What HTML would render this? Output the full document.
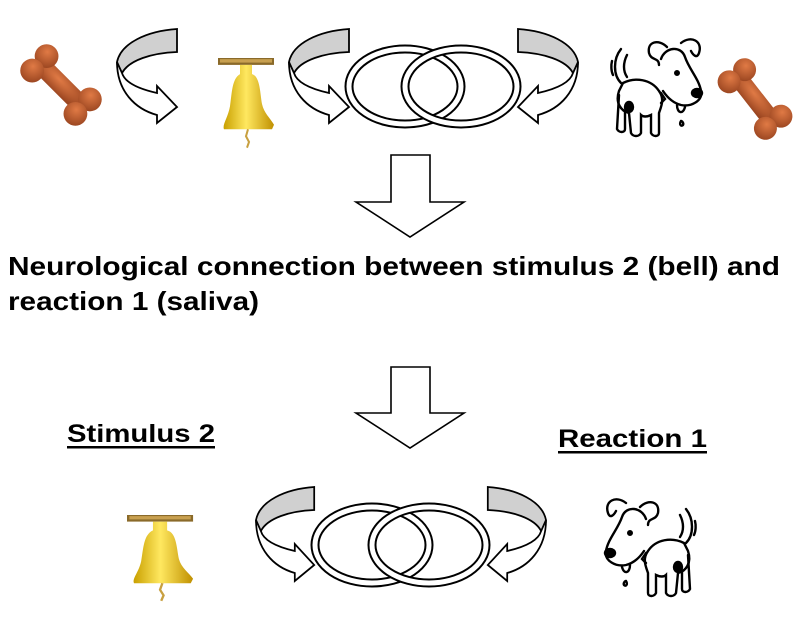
<!DOCTYPE html>
<html><head><meta charset="utf-8"><style>
html,body{margin:0;padding:0;background:#fff;}
svg{display:block;}
</style></head><body>
<svg width="800" height="620" viewBox="0 0 800 620" xmlns="http://www.w3.org/2000/svg">
<defs>
  <radialGradient id="bg" cx="40%" cy="35%" r="70%">
    <stop offset="0" stop-color="#e07a45"/><stop offset="1" stop-color="#9a4520"/>
  </radialGradient>
  <linearGradient id="gold" x1="0" x2="1">
    <stop offset="0" stop-color="#c9a000"/><stop offset="0.45" stop-color="#ffe860"/><stop offset="1" stop-color="#c09000"/>
  </linearGradient>
  <g id="bone">
    <rect x="-34" y="-11" width="68" height="22" rx="8" fill="url(#bg)"/>
    <circle cx="-36" cy="-12" r="14" fill="url(#bg)"/>
    <circle cx="-36" cy="12" r="14" fill="url(#bg)"/>
    <circle cx="36" cy="-12" r="14" fill="url(#bg)"/>
    <circle cx="36" cy="12" r="14" fill="url(#bg)"/>
  </g>
  <g id="carrow" stroke="#000" stroke-width="1.8" stroke-linejoin="miter">
    <path d="M60,0 L60,23 C35,24 12,31 5,44 C1,40 0,37 0,33 C4,14 30,2 60,0 Z" fill="#d0d0d0"/>
    <path d="M0,33 C0,62 18,80 40,86 L40,94 L60,78 L40,57 L40,64 C22,60 8,54 5,44 Z" fill="#fff"/>
  </g>
  <g id="bell">
    <rect x="0" y="0" width="56" height="6" fill="#8a6a2a"/>
    <rect x="2" y="1" width="52" height="3" fill="#c8a050"/>
    <path d="M22,6 L34,6 L34,14 C42,16 42,30 44,40 C46,48 52,52 56,58 L54,62 L6,62 C4,58 10,52 12,42 C14,30 14,18 22,14 Z" fill="url(#gold)"/>
    <path d="M30,62 l-2,6 l3,5 l-2,5" stroke="#c8a040" stroke-width="2" fill="none"/>
  </g>
  <g id="dog" fill="none" stroke="#000" stroke-width="2.4" stroke-linecap="round">
    <path d="M60,12 C52,4 40,6 42,18 C44,26 52,22 52,30"/>
    <path d="M74,8 C84,0 96,6 92,18 C90,24 86,20 84,16"/>
    <path d="M54,24 C58,12 74,10 78,22 C82,34 92,44 94,56 C96,66 84,72 74,70 C66,68 60,62 56,56"/>
    <ellipse cx="90" cy="58" rx="5" ry="4" fill="#000"/>
    <circle cx="70" cy="38" r="1.8" fill="#000"/>
    <path d="M70,70 C70,78 76,80 78,72"/>
    <path d="M74,86 c-2,3 0,6 2,4 c1,-2 -1,-4 -2,-4"/>
    <path d="M14,14 C6,24 6,40 14,48"/>
    <path d="M20,20 C16,28 16,36 20,42"/>
    <path d="M5,26 C4,30 4,36 6,40"/>
    <path d="M16,48 C28,42 44,44 52,56 C58,64 54,72 52,78 L52,98 C52,102 46,102 44,98 L44,80 C40,82 36,82 34,80 L34,98 C32,102 26,102 24,98 L22,78 C14,76 8,68 12,56 Z"/>
    <path d="M12,60 L10,94 C12,98 18,98 18,94 L18,76"/>
    <ellipse cx="22" cy="72" rx="4" ry="5" fill="#000"/>
    <path d="M54,58 l4,6 l-4,4"/>
  </g>
</defs>

<!-- top row -->
<use href="#bone" transform="translate(61,85) rotate(45) scale(0.85)"/>
<use href="#carrow" transform="translate(117,29)"/>
<use href="#bell" transform="translate(218,58) scale(1,1.15)"/>
<use href="#carrow" transform="translate(289,29)"/>
<g fill="none">
  <ellipse cx="405" cy="86.5" rx="56" ry="37.5" stroke="#000" stroke-width="9"/>
  <ellipse cx="405" cy="86.5" rx="56" ry="37.5" stroke="#fff" stroke-width="5"/>
  <ellipse cx="461" cy="86.5" rx="56" ry="37.5" stroke="#000" stroke-width="9"/>
  <ellipse cx="461" cy="86.5" rx="56" ry="37.5" stroke="#fff" stroke-width="5"/>
</g>
<use href="#carrow" transform="translate(578,29) scale(-1,1)"/>
<use href="#dog" transform="translate(607,35)"/>
<use href="#bone" transform="translate(755,99) rotate(52) scale(0.82)"/>

<!-- down arrow 1 -->
<path d="M391,155 L430,155 L430,202 L464,202 L410,237 L356,202 L391,202 Z" fill="#fff" stroke="#000" stroke-width="1.6"/>

<text x="8" y="275" font-family="Liberation Sans, sans-serif" font-weight="bold" font-size="26" textLength="772" lengthAdjust="spacingAndGlyphs">Neurological connection between stimulus 2 (bell) and</text>
<text x="8" y="310" font-family="Liberation Sans, sans-serif" font-weight="bold" font-size="26" textLength="251" lengthAdjust="spacingAndGlyphs">reaction 1 (saliva)</text>

<!-- down arrow 2 -->
<path d="M391,367 L430,367 L430,413 L464,413 L410,448 L356,413 L391,413 Z" fill="#fff" stroke="#000" stroke-width="1.6"/>

<text x="67" y="442" font-family="Liberation Sans, sans-serif" font-weight="bold" font-size="25" textLength="148" lengthAdjust="spacingAndGlyphs">Stimulus 2</text>
<rect x="67" y="446" width="148" height="2.5" fill="#000"/>
<text x="558" y="447" font-family="Liberation Sans, sans-serif" font-weight="bold" font-size="25" textLength="149" lengthAdjust="spacingAndGlyphs">Reaction 1</text>
<rect x="558" y="451" width="149" height="2.5" fill="#000"/>

<!-- bottom row -->
<use href="#bell" transform="translate(127,515) scale(1.18,1.1)"/>
<use href="#carrow" transform="translate(256,487) scale(0.97,1)"/>
<g fill="none">
  <ellipse cx="372" cy="545" rx="57" ry="38" stroke="#000" stroke-width="9"/>
  <ellipse cx="372" cy="545" rx="57" ry="38" stroke="#fff" stroke-width="5"/>
  <ellipse cx="429" cy="545" rx="57" ry="38" stroke="#000" stroke-width="9"/>
  <ellipse cx="429" cy="545" rx="57" ry="38" stroke="#fff" stroke-width="5"/>
</g>
<use href="#carrow" transform="translate(546,487) scale(-0.97,1)"/>
<use href="#dog" transform="translate(700,495) scale(-1,1)"/>
</svg>
</body></html>
